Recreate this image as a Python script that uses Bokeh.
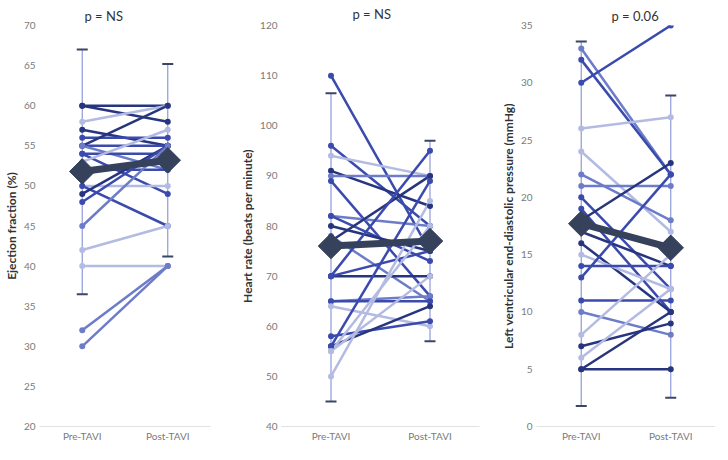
import math
from bokeh.plotting import figure
from bokeh.models import ColumnDataSource, Range1d, FactorRange, SingleIntervalTicker, Title
from bokeh.layouts import row
from bokeh.embed import file_html
from bokeh.resources import INLINE

cats = ["Pre-TAVI", "Post-TAVI"]

# Ejection fraction (%)
ef_pre = [60, 60, 58, 57, 56, 55, 55, 55, 54, 54, 53, 52, 50, 50, 49, 48, 45, 42, 40, 32, 30]
ef_post = [60, 58, 60, 55, 56, 60, 55, 52, 49, 54, 57, 52, 50, 45, 55, 55, 55, 45, 40, 40, 40]
ef_shade = [0, 0, 3, 0, 1, 0, 1, 2, 1, 1, 3, 1, 3, 1, 0, 1, 2, 3, 3, 2, 2]
ef_mean = [51.8, 53.2]
ef_low = [36.5, 41.2]
ef_high = [67.0, 65.2]

# Heart rate (beats per minute)
hr_pre = [110, 96, 94, 91, 90, 89, 82, 82, 80, 78, 77, 70, 70, 70, 65, 65, 64, 58, 56, 56, 55, 55, 50]
hr_post = [75, 80, 90, 84, 90, 66, 80, 73, 75, 65, 90, 70, 75, 95, 66, 65, 60, 61, 64, 89, 80, 70, 85]
hr_shade = [1, 1, 3, 0, 2, 1, 2, 1, 0, 2, 0, 0, 1, 1, 2, 1, 3, 1, 0, 1, 3, 3, 3]
hr_mean = [76.0, 77.0]
hr_low = [45.0, 57.0]
hr_high = [106.5, 97.0]

# Left ventricular end-diastolic pressure (mmHg)
lv_pre = [33, 32, 30, 26, 24, 22, 21, 20, 19, 18, 17, 16, 15, 14, 13, 11, 10, 8, 7, 6, 5, 5]
lv_post = [22, 22, 35, 27, 17, 18, 21, 12, 10, 23, 14, 10, 12, 14, 22, 11, 8, 15, 9, 12, 5, 10]
lv_shade = [2, 1, 1, 3, 3, 2, 2, 1, 1, 0, 0, 0, 3, 1, 1, 1, 2, 3, 0, 3, 0, 0]
lv_mean = [17.7, 15.6]
lv_low = [1.8, 2.5]
lv_high = [33.6, 28.9]

PALETTE = ["#27347e", "#3a4aad", "#6d7cc9", "#b4bbe3"]
FONT = "Lato"


def panel(pre, post, shade, mean, low, high, ylo, yhi, step, ylabel, ptitle,
          width, height, bl, br, bt, bb, toff, tstand):
    p = figure(x_range=FactorRange(factors=cats, range_padding=0),
               y_range=Range1d(ylo, yhi), width=width, height=height,
               output_backend="svg", toolbar_location=None,
               min_border_left=bl, min_border_right=br,
               min_border_top=bt, min_border_bottom=bb)
    p.outline_line_color = None
    p.background_fill_color = "white"
    p.border_fill_color = "white"
    p.xgrid.visible = False
    p.ygrid.visible = False

    p.yaxis.ticker = SingleIntervalTicker(interval=step)
    p.yaxis.axis_line_color = None
    p.yaxis.major_tick_out = 0
    p.yaxis.major_tick_in = 0
    p.yaxis.minor_tick_out = 0
    p.yaxis.minor_tick_in = 0
    p.yaxis.major_label_text_font = FONT
    p.yaxis.major_label_text_font_size = "10px"
    p.yaxis.major_label_text_color = "#7a7a7a"
    p.yaxis.major_label_standoff = 4
    p.yaxis.axis_label = ylabel
    p.yaxis.axis_label_text_font = FONT
    p.yaxis.axis_label_text_font_style = "bold"
    p.yaxis.axis_label_text_font_size = "12px"
    p.yaxis.axis_label_text_color = "#333333"
    p.yaxis.axis_label_standoff = 2

    p.xaxis.axis_line_color = "#e2e2e2"
    p.xaxis.axis_line_width = 1
    p.xaxis.major_tick_out = 0
    p.xaxis.major_tick_in = 0
    p.xaxis.minor_tick_out = 0
    p.xaxis.minor_tick_in = 0
    p.xaxis.major_label_text_font = FONT
    p.xaxis.major_label_text_font_size = "10px"
    p.xaxis.major_label_text_color = "#7a7a7a"
    p.xaxis.major_label_standoff = 3

    p.add_layout(Title(text=ptitle, align="left", offset=toff, text_font=FONT,
                       text_font_size="13px", text_font_style="normal",
                       text_color="#333333", standoff=tstand), "above")

    # error bars
    eb = ColumnDataSource(dict(x=cats, low=low, high=high))
    p.segment(x0="x", y0="low", x1="x", y1="high", source=eb,
              line_color="#8f9ad8", line_width=1.2)
    p.scatter(x="x", y="low", source=eb, marker="dash", size=11,
              line_color="#3b4664", line_width=2)
    p.scatter(x="x", y="high", source=eb, marker="dash", size=11,
              line_color="#3b4664", line_width=2)

    # individual patients
    colors = [PALETTE[s] for s in shade]
    src = ColumnDataSource(dict(x0=[cats[0]] * len(pre), x1=[cats[1]] * len(pre),
                                y0=pre, y1=post, c=colors))
    p.segment(x0="x0", y0="y0", x1="x1", y1="y1", source=src,
              line_color="c", line_width=2.5)
    p.scatter(x="x0", y="y0", source=src, size=6, fill_color="c", line_color=None)
    p.scatter(x="x1", y="y1", source=src, size=6, fill_color="c", line_color=None)

    # mean
    ms = ColumnDataSource(dict(x=cats, y=mean))
    p.line(x="x", y="y", source=ms, line_color="#36415c", line_width=7)
    p.scatter(x="x", y="y", source=ms, marker="square", size=18, angle=math.pi / 4,
              fill_color="#36415c", line_color="#36415c")
    return p


H = 444
p1 = panel(ef_pre, ef_post, ef_shade, ef_mean, ef_low, ef_high, 20, 70, 5,
           "Ejection fraction (%)", "p = NS", 237, H, 30, 27, 18, 18, 45, 4)
p2 = panel(hr_pre, hr_post, hr_shade, hr_mean, hr_low, hr_high, 40, 120, 10,
           "Heart rate (beats per minute)", "p = NS", 260, H, 40, 18, 21, 15, 71, 7)
p3 = panel(lv_pre, lv_post, lv_shade, lv_mean, lv_low, lv_high, 0, 35, 5,
           "Left ventricular end-diastolic pressure (mmHg)", "p = 0.06", 218, H, 39, 0, 18, 18, 75, 4)

layout = row(p1, p2, p3)
open("out.html", "w").write(file_html(layout, INLINE))
